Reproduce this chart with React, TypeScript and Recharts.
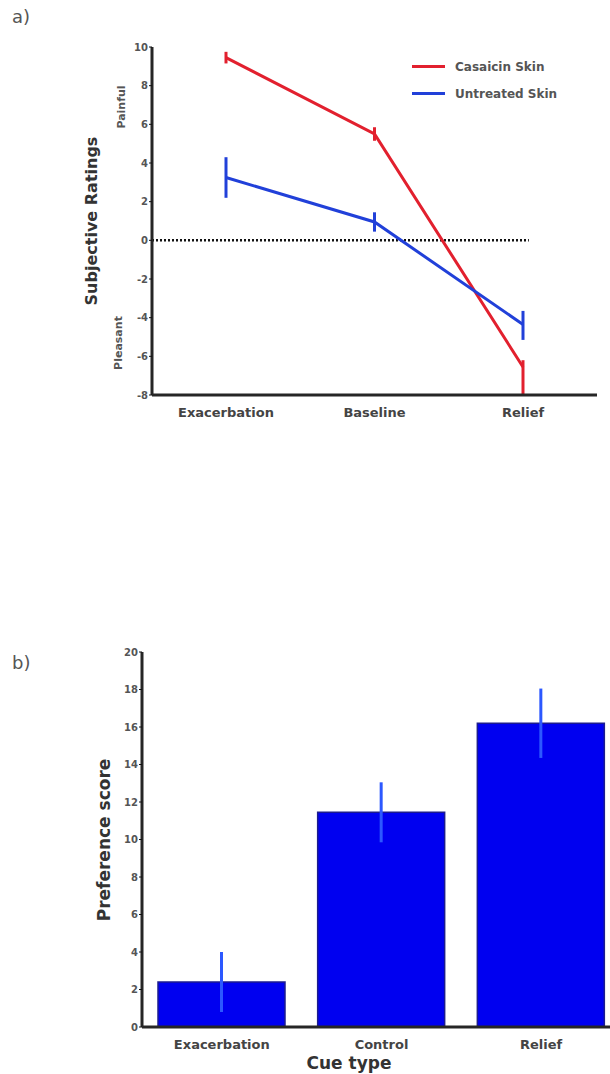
import React from 'react';
import {
  LineChart, Line, BarChart, Bar, XAxis, YAxis, ErrorBar, ReferenceLine, Legend,
} from 'recharts';

// ---- Panel a) data ----
const conditions = ['Exacerbation', 'Baseline', 'Relief'];
const capsaicinRatings = [9.45, 5.5, -6.55];
const capsaicinErrors: [number, number][] = [[0.3, 0.3], [0.35, 0.35], [1.45, 0.35]];
const untreatedRatings = [3.25, 0.95, -4.35];
const untreatedErrors: [number, number][] = [[1.05, 1.05], [0.5, 0.5], [0.8, 0.7]];
const ratingTicks = [-8, -6, -4, -2, 0, 2, 4, 6, 8, 10];

// ---- Panel b) data ----
const cueTypes = ['Exacerbation', 'Control', 'Relief'];
const preferenceScores = [2.4, 11.45, 16.2];
const preferenceErrors = [1.6, 1.6, 1.85];
const preferenceTicks = [0, 2, 4, 6, 8, 10, 12, 14, 16, 18, 20];

const ratingData = conditions.map((c, i) => ({
  name: c,
  capsaicin: capsaicinRatings[i],
  capsaicinErr: capsaicinErrors[i],
  untreated: untreatedRatings[i],
  untreatedErr: untreatedErrors[i],
}));

const prefData = cueTypes.map((c, i) => ({
  name: c,
  score: preferenceScores[i],
  err: preferenceErrors[i],
}));

const FONT = '"DejaVu Sans", "Liberation Sans", sans-serif';
const RED = '#e2202e';
const BLUE = '#2140d9';
const AXIS = '#262626';

const rot = (cx: number, cy: number, size: number, text: string, extra: React.CSSProperties = {}) => (
  <div
    style={{
      position: 'absolute', left: cx, top: cy, transform: 'translate(-50%, -50%) rotate(-90deg)',
      whiteSpace: 'nowrap', fontFamily: FONT, fontWeight: 'bold', fontSize: size, color: '#333',
      lineHeight: 1, ...extra,
    }}
  >
    {text}
  </div>
);

const LegendContent = (props: any) => {
  const payload = props.payload || [];
  return (
    <div style={{ fontFamily: FONT }}>
      {payload.map((p: any, i: number) => (
        <div key={i} style={{ display: 'flex', alignItems: 'center', height: 27 }}>
          <div style={{ width: 33, height: 3, background: p.color, marginRight: 10 }} />
          <span style={{ fontSize: 12, fontWeight: 'bold', color: '#555' }}>{p.value}</span>
        </div>
      ))}
    </div>
  );
};

const ZeroLine = (p: any) => {
  const band = (p.x2 - p.x1) / conditions.length;
  return (
    <line x1={p.x1} y1={p.y1} x2={p.x2 - band / 2 + 6} y2={p.y2}
      stroke="#111" strokeWidth={2.5} strokeDasharray="2 2" />
  );
};

export default function App() {
  return (
    <div style={{ position: 'absolute', left: 0, top: 0, width: 610, height: 1074, overflow: 'hidden', background: '#fff' }}>
      <div style={{ position: 'absolute', left: 12, top: 6, fontFamily: FONT, fontSize: 18, color: '#555' }}>a)</div>
      <div style={{ position: 'absolute', left: 12, top: 652, fontFamily: FONT, fontSize: 18, color: '#555' }}>b)</div>

      {/* Panel a */}
      <div style={{ position: 'absolute', left: 0, top: 0 }}>
        <LineChart width={610} height={420} data={ratingData}
          margin={{ top: 47, right: 13, bottom: 0, left: 0 }}>
          <XAxis dataKey="name" height={25} padding={{ left: 74, right: 74 }}
            axisLine={{ stroke: AXIS, strokeWidth: 3 }} tickLine={false} tickMargin={7}
            tick={{ fontFamily: FONT, fontSize: 13, fontWeight: 'bold', fill: '#444' }} />
          <YAxis width={152} domain={[-8, 10]} ticks={ratingTicks} interval={0}
            axisLine={{ stroke: AXIS, strokeWidth: 3 }} tickSize={3} tickMargin={1}
            tickLine={{ stroke: '#111' }}
            tick={{ fontFamily: FONT, fontSize: 10, fontWeight: 'bold', fill: '#555' }} />
          <ReferenceLine y={0} shape={ZeroLine} />
          <Line dataKey="capsaicin" name="Casaicin Skin" stroke={RED} strokeWidth={3}
            dot={false} isAnimationActive={false}>
            <ErrorBar dataKey="capsaicinErr" width={0} strokeWidth={3} stroke={RED} direction="y" />
          </Line>
          <Line dataKey="untreated" name="Untreated Skin" stroke={BLUE} strokeWidth={3}
            dot={false} isAnimationActive={false}>
            <ErrorBar dataKey="untreatedErr" width={0} strokeWidth={3} stroke={BLUE} direction="y" />
          </Line>
          <Legend content={LegendContent} layout="vertical" align="center" verticalAlign="middle"
            wrapperStyle={{ left: 412, top: 53, width: 190 }} />
        </LineChart>
      </div>
      {rot(92, 221, 16, 'Subjective Ratings')}
      {rot(121, 107, 11, 'Painful', { color: '#555' })}
      {rot(118, 343, 11, 'Pleasant', { color: '#555' })}

      {/* Panel b */}
      <div style={{ position: 'absolute', left: 0, top: 620 }}>
        <BarChart width={640} height={454} data={prefData}
          margin={{ top: 32, right: 19, bottom: 0, left: 0 }}>
          <XAxis dataKey="name" height={47}
            axisLine={{ stroke: AXIS, strokeWidth: 3 }} tickLine={false} tickMargin={7}
            tick={{ fontFamily: FONT, fontSize: 13, fontWeight: 'bold', fill: '#444' }} />
          <YAxis width={142} domain={[0, 20]} ticks={preferenceTicks} interval={0}
            axisLine={{ stroke: AXIS, strokeWidth: 3 }} tickSize={3} tickMargin={1}
            tickLine={{ stroke: '#111' }}
            tick={{ fontFamily: FONT, fontSize: 10, fontWeight: 'bold', fill: '#555' }} />
          <Bar dataKey="score" barSize={127} fill="#0000f0" stroke="#1c1c8e" strokeWidth={1.5}
            isAnimationActive={false}>
            <ErrorBar dataKey="err" width={0} strokeWidth={3} stroke="#2c58ff" direction="y" />
          </Bar>
        </BarChart>
      </div>
      {rot(104, 840, 17, 'Preference score')}
      <div style={{
        position: 'absolute', left: 349, top: 1063, transform: 'translate(-50%, -50%)',
        fontFamily: FONT, fontWeight: 'bold', fontSize: 17, color: '#333', whiteSpace: 'nowrap', lineHeight: 1,
      }}>Cue type</div>
    </div>
  );
}
